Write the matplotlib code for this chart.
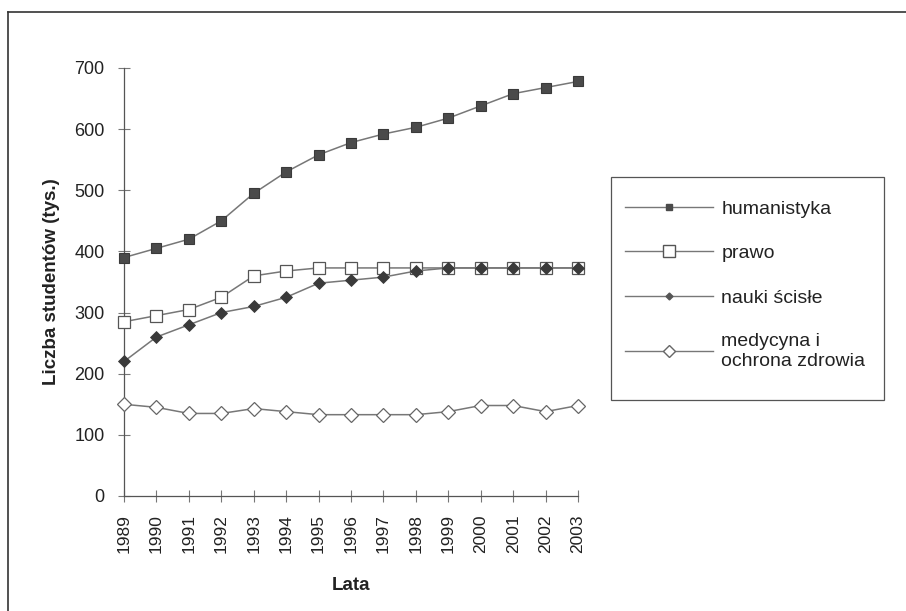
import matplotlib
matplotlib.use("Agg")
import matplotlib.pyplot as plt
from matplotlib.lines import Line2D
from matplotlib.patches import Rectangle

plt.rcParams['font.family'] = ['Liberation Sans', 'DejaVu Sans']

years = [1989, 1990, 1991, 1992, 1993, 1994, 1995, 1996, 1997, 1998, 1999, 2000, 2001, 2002, 2003]
humanistyka = [390, 405, 420, 450, 495, 530, 558, 578, 592, 603, 618, 638, 658, 668, 678]
prawo = [285, 295, 305, 325, 360, 368, 373, 373, 373, 373, 373, 373, 373, 373, 373]
nauki = [220, 260, 280, 300, 310, 325, 348, 353, 358, 368, 373, 373, 373, 373, 373]
medycyna = [150, 145, 135, 135, 143, 138, 133, 133, 133, 133, 138, 148, 148, 138, 148]
labels = ['humanistyka', 'prawo', 'nauki ścisłe', 'medycyna i\nochrona zdrowia']
yticks = [0, 100, 200, 300, 400, 500, 600, 700]

W, H = 906, 611
fig = plt.figure(figsize=(W/100, H/100), dpi=100)
ax = fig.add_axes([124/W, 1-496/H, (578-124)/W, (496-68)/H])

lc = '#777777'
ax.plot(years, humanistyka, color=lc, lw=1.1, marker='s', ms=7.5,
        mfc='#4a4a4a', mec='#3a3a3a', mew=0.8, zorder=3, clip_on=False)
ax.plot(years, prawo, color=lc, lw=1.1, marker='s', ms=8.5,
        mfc='white', mec='#555555', mew=0.9, zorder=3, clip_on=False)
ax.plot(years, nauki, color=lc, lw=1.1, marker='D', ms=6,
        mfc='#3a3a3a', mec='#3a3a3a', mew=0.6, zorder=4, clip_on=False)
ax.plot(years, medycyna, color=lc, lw=1.1, marker='D', ms=7,
        mfc='white', mec='#666666', mew=0.9, zorder=3, clip_on=False)

ax.set_xlim(1989, 2003)
ax.set_ylim(0, 700)
ax.set_xticks(years)
ax.set_xticklabels([str(y) for y in years], rotation=90, fontsize=12.5, color='#222222')
ax.set_yticks(yticks)
ax.set_yticklabels([str(v) for v in yticks], fontsize=13, color='#222222')
ax.tick_params(axis='both', direction='inout', length=8, width=0.8, color='#777777')
ax.tick_params(axis='y', pad=10)
ax.tick_params(axis='x', pad=9)
for s in ['top', 'right']:
    ax.spines[s].set_visible(False)
for s in ['left', 'bottom']:
    ax.spines[s].set_color('#555555')
    ax.spines[s].set_linewidth(0.9)
ax.set_ylabel('Liczba studentów (tys.)', fontsize=13.5, fontweight='bold', color='#222222', labelpad=10)
ax.set_xlabel('Lata', fontsize=13.5, fontweight='bold', color='#222222', labelpad=17)

handles = [
    Line2D([], [], color=lc, lw=1.0, marker='s', ms=5, mfc='#4a4a4a', mec='#4a4a4a'),
    Line2D([], [], color=lc, lw=1.0, marker='s', ms=8, mfc='white', mec='#555555'),
    Line2D([], [], color=lc, lw=1.0, marker='D', ms=3.5, mfc='#555555', mec='#555555'),
    Line2D([], [], color=lc, lw=1.0, marker='D', ms=6, mfc='white', mec='#666666'),
]
fig.add_artist(Rectangle((611/W, 1-400/H), (884-611)/W, (400-177)/H,
                         transform=fig.transFigure, fill=False,
                         edgecolor='#555555', lw=0.9))
leg = fig.legend(handles, labels, loc='upper left',
                 bbox_to_anchor=(625/W, 1-200/H), fontsize=14,
                 frameon=False, handlelength=4.5, handletextpad=0.45,
                 labelspacing=1.38, borderpad=0, borderaxespad=0)
for t in leg.get_texts():
    t.set_color('#222222')

# outer frame lines (left and top)
fig.add_artist(Line2D([8/W, 8/W], [0, 1-12/H], transform=fig.transFigure, color='#333333', lw=1.2))
fig.add_artist(Line2D([8/W, 1], [1-12/H, 1-12/H], transform=fig.transFigure, color='#333333', lw=1.2))

fig.savefig('out.png', dpi=100)
